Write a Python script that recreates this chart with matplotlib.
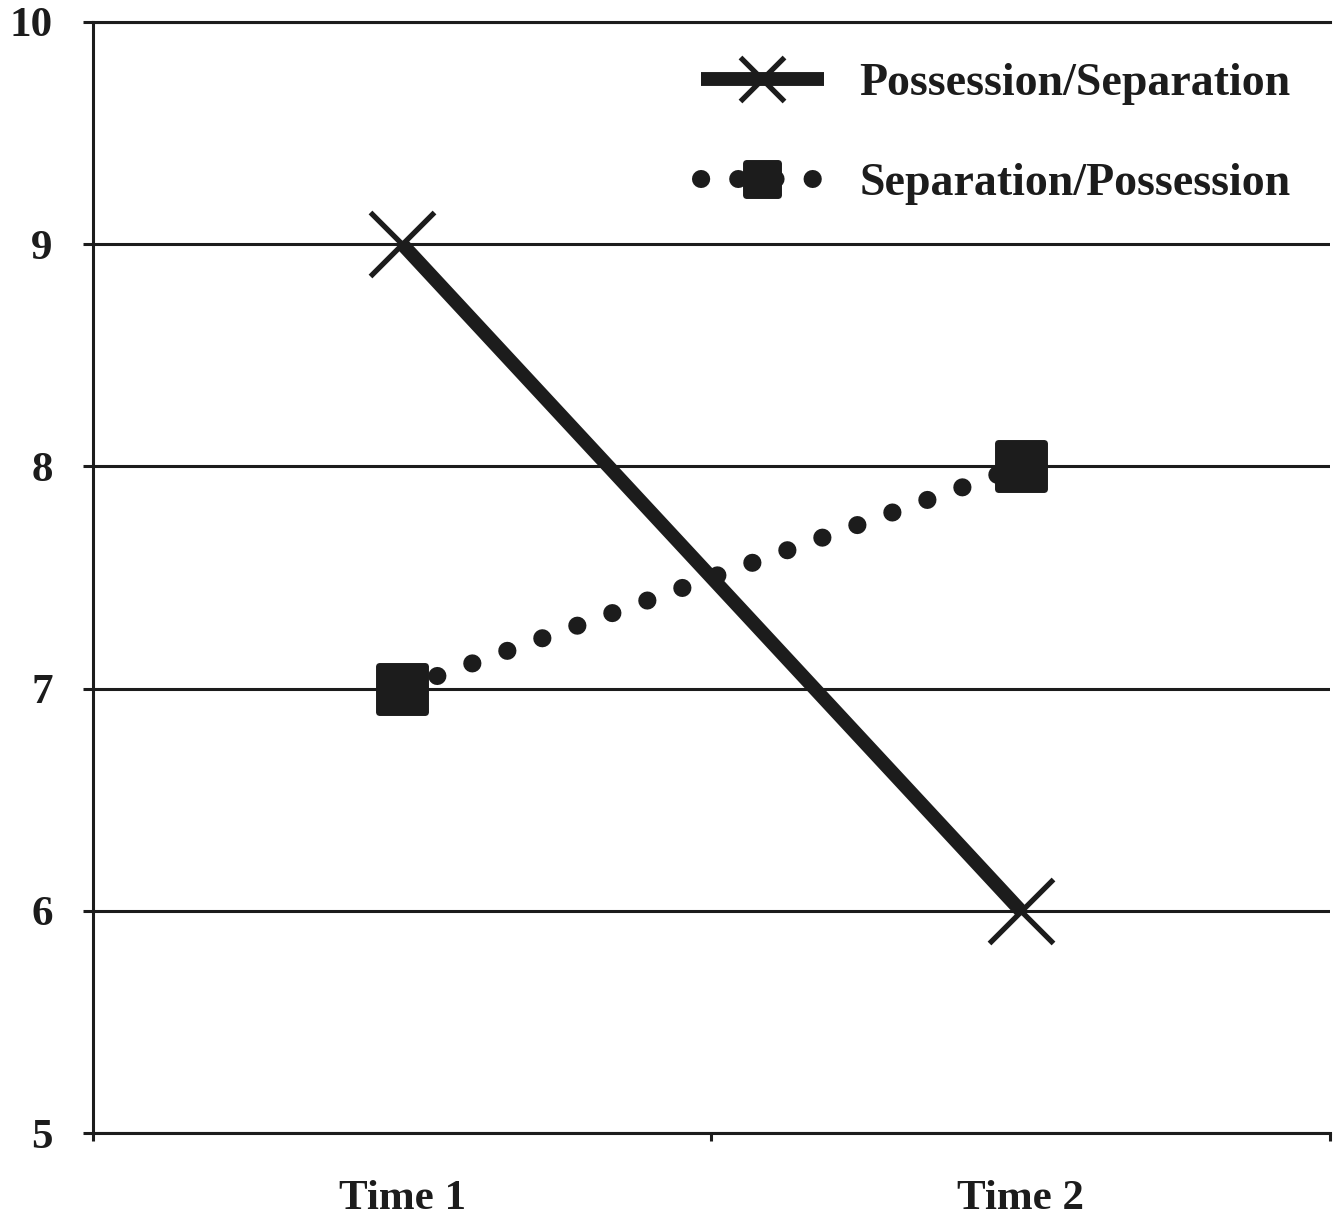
import matplotlib.pyplot as plt
import numpy as np
from matplotlib.markers import MarkerStyle

# data
categories = ['Time 1', 'Time 2']
poss_sep = [9, 6]
sep_poss = [7, 8]
series_names = ['Possession/Separation', 'Separation/Possession']
y_ticks = [5, 6, 7, 8, 9, 10]

ink = '#1c1c1c'
plt.rcParams['font.family'] = ['Liberation Serif', 'DejaVu Serif']
plt.rcParams['font.weight'] = 'bold'

fig = plt.figure(figsize=(13.34, 12.2), dpi=100)
ax = fig.add_axes([0.0697, 0.0713, 0.9273, 0.9107])

x = np.arange(len(categories)) + 0.5

ax.plot(x, poss_sep, color=ink, lw=10, marker='x', markersize=46,
        markeredgewidth=3.8, solid_capstyle='butt', label=series_names[0], zorder=3)
ax.plot(x, sep_poss, color=ink, lw=13, linestyle=(0, (0.01, 2.05)),
        dash_capstyle='round',
        marker=MarkerStyle('s', joinstyle='round'), markersize=33,
        markeredgewidth=5, markeredgecolor=ink, label=series_names[1], zorder=3)

ax.set_xlim(0, 2)
ax.set_ylim(5, 10)
ax.set_yticks(y_ticks)
ax.set_xticks([0, 1, 2])
ax.set_xticklabels(['', '', ''])
ax.set_xticks(x, categories, minor=True)

ax.yaxis.grid(True, color=ink, lw=2.2)
ax.set_axisbelow(True)
for side in ['left', 'bottom', 'top']:
    ax.spines[side].set_linewidth(2.2)
    ax.spines[side].set_color(ink)
ax.spines['right'].set_visible(False)

ax.tick_params(axis='y', which='major', length=7, width=2.2, color=ink,
               pad=22, labelsize=31, labelcolor=ink)
ax.tick_params(axis='x', which='major', length=6, width=2.2, color=ink)
ax.tick_params(axis='x', which='minor', length=0, pad=34, labelsize=31,
               labelcolor=ink)

leg = ax.legend(loc='upper right', bbox_to_anchor=(0.968, 0.963), frameon=False,
                fontsize=33, handlelength=2.7, handletextpad=0.76,
                labelspacing=1.27, borderpad=0, borderaxespad=0, markerscale=0.7)
for t in leg.get_texts():
    t.set_color(ink)

fig.savefig('out.png', dpi=100)
